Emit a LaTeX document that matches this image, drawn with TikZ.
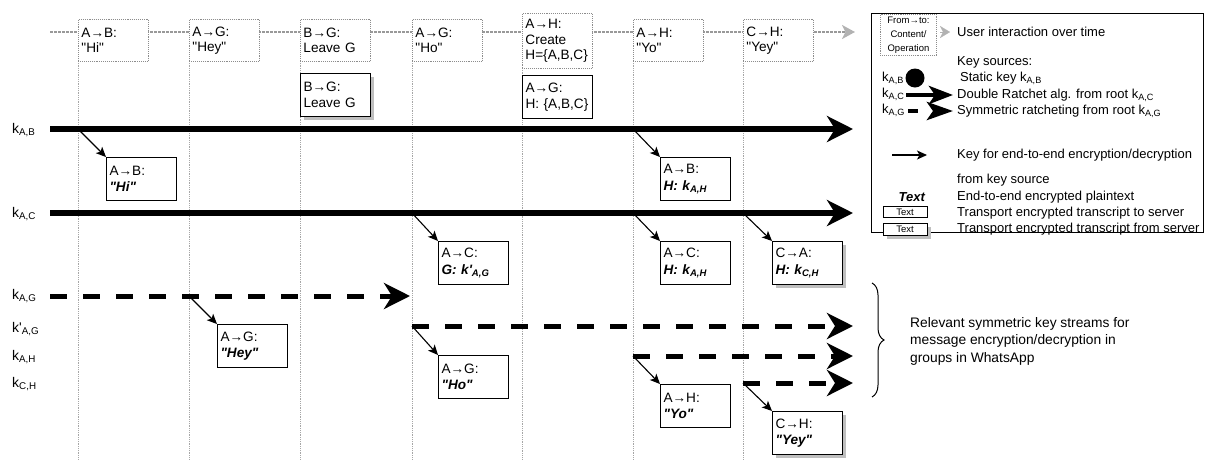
\documentclass[tikz,border=0pt]{standalone}
\usepackage{fontspec}
\setmainfont{Liberation Sans}
\usetikzlibrary{arrows.meta,shadows,decorations.pathreplacing}
\newcommand{\bitx}[1]{\textbf{\textit{#1}}}
\newcommand{\qq}{\textquotedbl}
\begin{document}
\begin{tikzpicture}[x=1pt,y=-1pt,
  font=\fontsize{13}{15.5}\selectfont,
  every node/.style={inner sep=0pt},
  evt/.style={draw=black!45, densely dotted, line width=0.9pt, fill=white, anchor=north west,
    minimum width=70, minimum height=42, text width=64, inner sep=3, align=left,
    font=\fontsize{13.6}{15.5}\selectfont},
  msg/.style={draw=black, line width=1.1pt, fill=white, anchor=north west,
    minimum width=70, minimum height=43, text width=64, inner sep=3, align=left,
    font=\fontsize{13.6}{16.5}\selectfont},
  shad/.style={drop shadow={shadow xshift=3.5pt,shadow yshift=-3.5pt,fill=black!25,opacity=1}},
  vline/.style={draw=black!35, densely dotted, line width=0.8pt},
  timeline/.style={draw=black!40, line width=2.5pt, dash pattern=on 2.5pt off 1.5pt,
    -{Stealth[length=13pt,width=14pt,inset=3.5pt,fill=black!30,color=black!30]}},
  solidkey/.style={line width=6pt, -{Stealth[length=26pt,width=26pt,inset=8pt]}},
  dashkey/.style={line width=5pt, dash pattern=on 16.5pt off 16.5pt, -{Stealth[length=26pt,width=26pt,inset=8pt]}},
  legsolid/.style={line width=4.5pt, -{Stealth[length=24pt,width=18pt,inset=6pt]}},
  legdash/.style={line width=4.5pt, dash pattern=on 10pt off 30pt, -{Stealth[length=26pt,width=18pt,inset=6pt]}},
  keyarrow/.style={line width=1.1pt, -{Stealth[length=10pt,width=9pt,inset=2.5pt]}},
  klabel/.style={anchor=west, font=\fontsize{14}{16}\selectfont}
]
\useasboundingbox (0,0) rectangle (1205,459);

% vertical time coordinates
\coordinate (v1) at (78,61);
\coordinate (v2) at (189,61);
\coordinate (v3) at (300,61);
\coordinate (v4) at (412,61);
\coordinate (v5) at (522,68);
\coordinate (v6) at (633,61);
\coordinate (v7) at (743,61);
\foreach \v in {v1,v2,v3,v4,v5,v6,v7}{
  \draw[vline] (\v) -- (\v |- 0,459);
}

% timeline
\coordinate (tl0) at (50,32);
\coordinate (tl1) at (855,32);
\draw[timeline] (tl0) -- (tl1);

% top events
\node[evt] (t1) at (78,19) {A→B:\\\qq Hi\qq};
\node[evt] (t2) at (189,19) {A→G:\\\qq Hey\qq};
\node[evt] (t3) at (300,19) {B→G:\\Leave G};
\node[evt] (t4) at (412,19) {A→G:\\\qq Ho\qq};
\node[evt, minimum height=55] (t5) at (522,13) {A→H:\\Create\\H=\{A,B,C\}};
\node[evt] (t6) at (633,19) {A→H:\\\qq Yo\qq};
\node[evt] (t7) at (743,19) {C→H:\\\qq Yey\qq};

% server boxes
\node[msg, shad] (s1) at (300,73) {B→G:\\Leave G};
\node[msg] (s2) at (522,75) {A→G:\\H: \{A,B,C\}};

% key labels
\node[klabel] (lkab) at (12,130) {k\textsubscript{A,B}};
\node[klabel] (lkac) at (12,214) {k\textsubscript{A,C}};
\node[klabel] (lkag) at (12,296) {k\textsubscript{A,G}};
\node[klabel] (lkpag) at (12,329) {k\textquotesingle\textsubscript{A,G}};
\node[klabel] (lkah) at (12,357) {k\textsubscript{A,H}};
\node[klabel] (lkch) at (12,384) {k\textsubscript{C,H}};

% key streams
\coordinate (kab0) at (50,129);  \coordinate (kab1) at (853,129);
\coordinate (kac0) at (50,213);  \coordinate (kac1) at (853,213);
\coordinate (kag0) at (50,296);  \coordinate (kag1) at (410,296);
\coordinate (kpag0) at (412,326); \coordinate (kpag1) at (853,326);
\coordinate (kah0) at (633,356); \coordinate (kah1) at (853,356);
\coordinate (kch0) at (743,383); \coordinate (kch1) at (853,383);
\draw[solidkey] (kab0) -- (kab1);
\draw[solidkey] (kac0) -- (kac1);
\draw[dashkey] (kag0) -- (kag1);
\draw[dashkey] (kpag0) -- (kpag1);
\draw[dashkey] (kah0) -- (kah1);
\draw[dashkey] (kch0) -- (kch1);

% messages
\node[msg] (m1) at (106,157) {A→B:\\\bitx{\qq Hi\qq}};
\node[msg] (m2) at (660,157) {A→B:\\\bitx{H: k\textsubscript{A,H}}};
\node[msg] (m3) at (438,241) {A→C:\\\bitx{G: k\textquotesingle\textsubscript{A,G}}};
\node[msg] (m4) at (660,241) {A→C:\\\bitx{H: k\textsubscript{A,H}}};
\node[msg, shad] (m5) at (772,241) {C→A:\\\bitx{H: k\textsubscript{C,H}}};
\node[msg] (m6) at (217,324) {A→G:\\\bitx{\qq Hey\qq}};
\node[msg] (m7) at (438,355) {A→G:\\\bitx{\qq Ho\qq}};
\node[msg] (m8) at (660,384) {A→H:\\\bitx{\qq Yo\qq}};
\node[msg, shad] (m9) at (772,411) {C→H:\\\bitx{\qq Yey\qq}};

\draw[keyarrow] (v1 |- kab0) -- (m1.north west);
\draw[keyarrow] (v6 |- kab0) -- (m2.north west);
\draw[keyarrow] (v4 |- kac0) -- (m3.north west);
\draw[keyarrow] (v6 |- kac0) -- (m4.north west);
\draw[keyarrow] (v7 |- kac0) -- (m5.north west);
\draw[keyarrow] (v2 |- kag0) -- (m6.north west);
\draw[keyarrow] (v4 |- kpag0) -- (m7.north west);
\draw[keyarrow] (v6 |- kah0) -- (m8.north west);
\draw[keyarrow] (v7 |- kch0) -- (m9.north west);

% brace
\coordinate (br0) at (872,283);
\coordinate (br1) at (872,397);
\draw[line width=1pt, decorate, decoration={brace, amplitude=12pt}] (br0) -- (br1);
\node[anchor=west, align=left, font=\fontsize{13.8}{17.5}\selectfont] (brtext) at (910,341)
  {Relevant symmetric key streams for\\message encryption/decryption in\\groups in WhatsApp};

% legend
\node[draw, line width=1.1pt, anchor=north west, minimum width=332, minimum height=219] (legend) at (871,13) {};
\node[evt, minimum width=56, minimum height=41, text width=52, inner sep=2, align=center,
  font=\fontsize{9.5}{14}\selectfont] (lgev) at (880,14) {From→to:\\Content/\\Operation};
\coordinate (lga0) at (940,32); \coordinate (lga1) at (950,32);
\draw[line width=0.1pt, draw=black!30, -{Stealth[length=10pt,width=12pt,inset=3pt,fill=black!30,color=black!30]}] (lga0) -- (lga1);
\node[anchor=west] (lgt1) at (957,32) {User interaction over time};
\node[anchor=west] (lgt2) at (957,62) {Key sources:};
\node[anchor=west] (lgkab) at (882,78) {k\textsubscript{A,B}};
\node[circle, fill=black, minimum size=19] (lgdot) at (915,78) {};
\node[anchor=west] (lgt3) at (960,78) {Static key k\textsubscript{A,B}};
\node[anchor=west] (lgkac) at (882,94) {k\textsubscript{A,C}};
\coordinate (lgc0) at (906,95); \coordinate (lgc1) at (953,95);
\draw[legsolid] (lgc0) -- (lgc1);
\node[anchor=west] (lgt4) at (957,95) {Double Ratchet alg. from root k\textsubscript{A,C}};
\node[anchor=west] (lgkag) at (882,110) {k\textsubscript{A,G}};
\coordinate (lgg0) at (908,111); \coordinate (lgg1) at (953,111);
\draw[legdash] (lgg0) -- (lgg1);
\node[anchor=west] (lgt5) at (957,111) {Symmetric ratcheting from root k\textsubscript{A,G}};
\coordinate (lgk0) at (892,155); \coordinate (lgk1) at (927,155);
\draw[keyarrow] (lgk0) -- (lgk1);
\node[anchor=west] (lgt6) at (957,155) {Key for end-to-end encryption/decryption};
\node[anchor=west] (lgt7) at (957,180) {from key source};
\node (lgtext) at (912,197) {\bitx{Text}};
\node[anchor=west] (lgt8) at (957,197) {End-to-end encrypted plaintext};
\node[draw, line width=1pt, fill=white, minimum width=44, minimum height=11.5,
  font=\fontsize{9.5}{10}\selectfont] (lgbox1) at (905,212) {Text};
\node[anchor=west] (lgt9) at (957,213) {Transport encrypted transcript to server};
\node[draw, line width=1pt, fill=white, shad, minimum width=44, minimum height=11.5,
  font=\fontsize{9.5}{10}\selectfont] (lgbox2) at (905,229.5) {Text};
\node[anchor=west] (lgt10) at (957,229.5) {Transport encrypted transcript from server};
\end{tikzpicture}
\end{document}
